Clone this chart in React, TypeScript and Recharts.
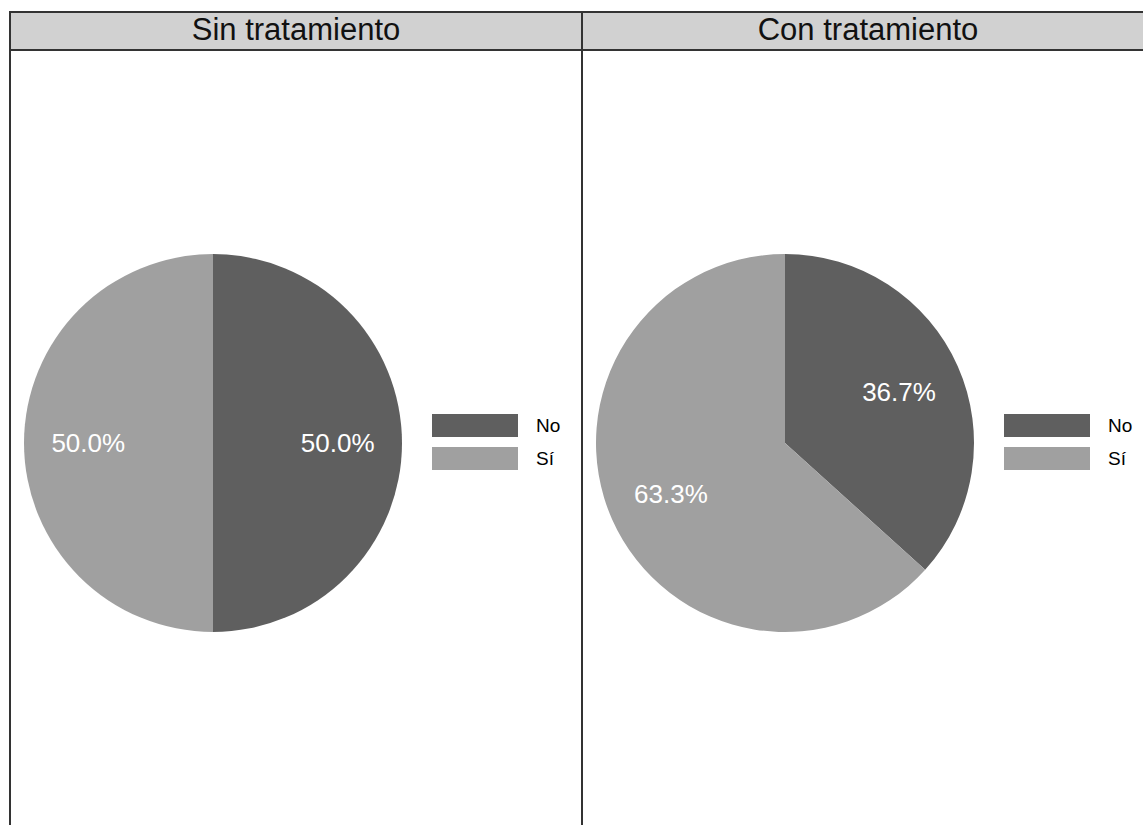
import { PieChart, Pie, Cell, Legend } from 'recharts';

const panelTitles = ['Sin tratamiento', 'Con tratamiento'];
const categories = ['No', 'Sí'];
const sinTratamiento = [50.0, 50.0];
const conTratamiento = [36.7, 63.3];
const COLORS = ['#5f5f5f', '#a0a0a0'];

const FONT = '"Liberation Sans", Arial, Helvetica, sans-serif';
const RADIAN = Math.PI / 180;

const PANEL_W = 574;
const CHART_W = 570;
const CHART_H = 784;

const renderLabel = (props: any) => {
  const { cx, cy, midAngle, outerRadius, value } = props;
  const r = outerRadius * 0.66;
  const x = cx + r * Math.cos(-midAngle * RADIAN);
  const y = cy + r * Math.sin(-midAngle * RADIAN);
  return (
    <text
      x={x}
      y={y}
      fill="#ffffff"
      fontSize={26}
      fontFamily={FONT}
      textAnchor="middle"
      dominantBaseline="central"
    >
      {`${Number(value).toFixed(1)}%`}
    </text>
  );
};

const renderLegend = () => (
  <div style={{ fontFamily: FONT, fontSize: 19, color: '#000' }}>
    {categories.map((name, i) => (
      <div
        key={name}
        style={{ display: 'flex', alignItems: 'center', height: 23, marginBottom: 10 }}
      >
        <div style={{ width: 86, height: 23, background: COLORS[i] }} />
        <span style={{ marginLeft: 18 }}>{name}</span>
      </div>
    ))}
  </div>
);

function Panel({ title, values, index }: { title: string; values: number[]; index: number }) {
  const data = categories.map((name, i) => ({ name, value: values[i] }));
  return (
    <div
      style={{
        position: 'absolute',
        left: 9 + index * (PANEL_W - 2),
        top: 11,
        width: PANEL_W,
        height: 860,
        boxSizing: 'border-box',
        border: '2px solid #333333',
      }}
    >
      <div
        style={{
          height: 36,
          borderBottom: '2px solid #333333',
          background: '#d1d1d1',
          fontFamily: FONT,
          fontSize: 31,
          color: '#111',
          textAlign: 'center',
          lineHeight: '34px',
        }}
      >
        {title}
      </div>
      <PieChart
        width={CHART_W}
        height={CHART_H}
        margin={{ top: 0, right: 0, bottom: 0, left: 0 }}
      >
        <Pie
          data={data}
          dataKey="value"
          nameKey="name"
          cx={202}
          cy={392}
          outerRadius={189}
          startAngle={90}
          endAngle={-270}
          stroke="none"
          labelLine={false}
          label={renderLabel}
          isAnimationActive={false}
        >
          {data.map((_, i) => (
            <Cell key={`cell-${i}`} fill={COLORS[i]} />
          ))}
        </Pie>
        <Legend
          content={renderLegend}
          wrapperStyle={{ position: 'absolute', left: 421, top: 363, width: 140 }}
        />
      </PieChart>
    </div>
  );
}

export default function App() {
  return (
    <div
      style={{
        position: 'absolute',
        left: 0,
        top: 0,
        width: 1143,
        height: 825,
        overflow: 'hidden',
        background: '#ffffff',
      }}
    >
      <Panel title={panelTitles[0]} values={sinTratamiento} index={0} />
      <Panel title={panelTitles[1]} values={conTratamiento} index={1} />
    </div>
  );
}
